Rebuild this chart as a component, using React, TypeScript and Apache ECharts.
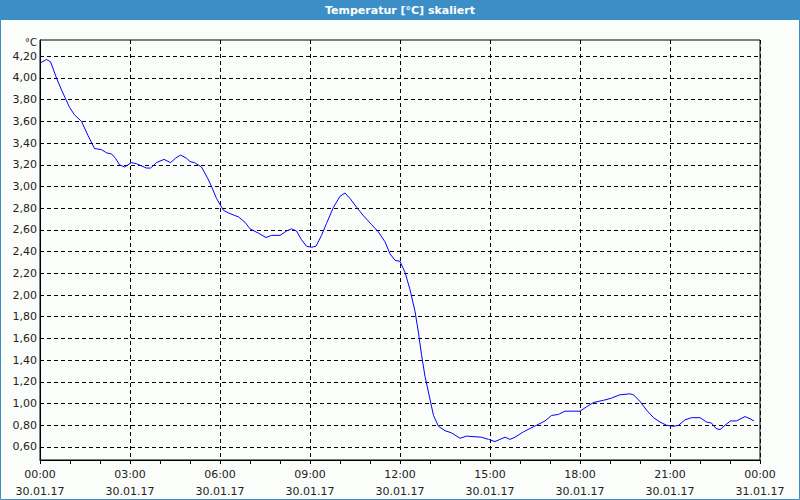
import React, { useEffect, useRef } from "react";
import * as echarts from "echarts";

const titleText = "Temperatur [°C] skaliert";
const unitLabel = "°C";

// time of day (30.01.17) and temperature in °C
const times = [
  "00:01", "00:13", "00:21", "00:33", "00:43", "00:59", "01:09", "01:23", "01:36", "01:49",
  "02:03", "02:13", "02:23", "02:31", "02:39", "02:49", "03:03", "03:13", "03:23", "03:33",
  "03:41", "03:53", "04:08", "04:21", "04:31", "04:41", "04:53", "05:00", "05:09", "05:23",
  "05:36", "05:43", "05:53", "06:07", "06:20", "06:37", "06:50", "07:00", "07:17", "07:32",
  "07:43", "08:00", "08:13", "08:23", "08:33", "08:43", "08:53", "09:03", "09:12", "09:23",
  "09:33", "09:47", "10:00", "10:10", "10:20", "10:33", "10:47", "11:03", "11:17", "11:30",
  "11:40", "11:50", "12:00", "12:10", "12:20", "12:30", "12:37", "12:43", "12:50", "12:59",
  "13:07", "13:17", "13:30", "13:43", "14:00", "14:13", "14:43", "14:57", "15:10", "15:20",
  "15:30", "15:40", "15:50", "16:07", "16:20", "16:33", "16:50", "17:03", "17:17", "17:30",
  "18:00", "18:13", "18:27", "18:47", "19:03", "19:19", "19:40", "19:47", "20:00", "20:13",
  "20:27", "20:40", "20:53", "21:07", "21:17", "21:30", "21:43", "22:00", "22:13", "22:23",
  "22:32", "22:40", "22:50", "23:01", "23:13", "23:30", "23:40", "23:48",
];
const temps = [
  4.14, 4.17, 4.15, 4.0, 3.89, 3.73, 3.66, 3.6, 3.47, 3.35,
  3.34, 3.31, 3.3, 3.26, 3.2, 3.18, 3.22, 3.21, 3.19, 3.17,
  3.17, 3.22, 3.25, 3.22, 3.26, 3.29, 3.26, 3.23, 3.22, 3.18,
  3.07, 3.0, 2.89, 2.78, 2.75, 2.72, 2.67, 2.61, 2.57, 2.53,
  2.55, 2.55, 2.59, 2.61, 2.59, 2.51, 2.45, 2.44, 2.45, 2.55,
  2.66, 2.81, 2.91, 2.94, 2.89, 2.81, 2.73, 2.65, 2.58, 2.49,
  2.38, 2.32, 2.31, 2.21, 2.05, 1.85, 1.65, 1.45, 1.25, 1.06,
  0.89, 0.79, 0.75, 0.73, 0.68, 0.7, 0.69, 0.67, 0.65, 0.67,
  0.69, 0.67, 0.69, 0.74, 0.77, 0.8, 0.84, 0.89, 0.9, 0.93,
  0.93, 0.97, 1.01, 1.03, 1.05, 1.08, 1.09, 1.08, 1.02, 0.94,
  0.87, 0.83, 0.8, 0.79, 0.8, 0.85, 0.87, 0.87, 0.83, 0.82,
  0.77, 0.76, 0.8, 0.84, 0.84, 0.88, 0.86, 0.84,
];

const yTickValues = [0.6, 0.8, 1.0, 1.2, 1.4, 1.6, 1.8, 2.0, 2.2, 2.4, 2.6, 2.8, 3.0, 3.2, 3.4, 3.6, 3.8, 4.0, 4.2];
const yMin = 0.48;
const yMax = 4.35;
const xTickHours = [0, 3, 6, 9, 12, 15, 18, 21, 24];
const dayLabels = ["30.01.17", "31.01.17"];

const toMinutes = (t: string) => {
  const [h, m] = t.split(":").map(Number);
  return h * 60 + m;
};

const FONT = "DejaVu Sans";

export default function App() {
  const ref = useRef<HTMLDivElement>(null);

  useEffect(() => {
    if (!ref.current) return;
    const chart = echarts.init(ref.current, null, { renderer: "svg" });
    const data = times.map((t, i) => [toMinutes(t), temps[i]]);
    const pad = (n: number) => (n < 10 ? "0" + n : "" + n);

    chart.setOption({
      animation: false,
      backgroundColor: "#fbfdfb",
      graphic: [
        {
          type: "rect",
          shape: { x: 0, y: 0, width: 800, height: 20 },
          style: { fill: "#3b8fc6" },
          silent: true,
        },
        {
          type: "rect",
          shape: { x: 0.5, y: 0.5, width: 799, height: 499 },
          style: { fill: "none", stroke: "#3b8fc6", lineWidth: 1 },
          silent: true,
        },
        {
          type: "text",
          style: {
            text: titleText,
            x: 400,
            y: 10,
            align: "center",
            verticalAlign: "middle",
            fill: "#ffffff",
            font: `bold 11px "${FONT}"`,
          },
          silent: true,
        },
        {
          type: "text",
          style: {
            text: unitLabel,
            x: 37,
            y: 42,
            align: "right",
            verticalAlign: "middle",
            fill: "#222",
            font: `10px "${FONT}"`,
          },
          silent: true,
        },
      ],
      grid: {
        left: 40,
        right: 40,
        top: 40,
        bottom: 40,
        show: true,
        borderColor: "#000",
        borderWidth: 1,
        backgroundColor: "transparent",
      },
      xAxis: {
        type: "value",
        min: 0,
        max: 1440,
        interval: 180,
        axisLine: { show: true, lineStyle: { color: "#000", width: 1 } },
        axisTick: {
          show: true,
          length: 4,
          lineStyle: { color: "#000" },
          customValues: xTickHours.map((h) => h * 60),
        },
        minorTick: { show: true, splitNumber: 3, length: 4, lineStyle: { color: "#000" } },
        axisLabel: {
          customValues: xTickHours.map((h) => h * 60),
          margin: 6,
          color: "#222",
          fontFamily: FONT,
          fontSize: 11,
          lineHeight: 17,
          formatter: (v: number) => {
            const h = Math.floor(v / 60) % 24;
            const d = v >= 1440 ? dayLabels[1] : dayLabels[0];
            return pad(h) + ":00\n" + d;
          },
        },
        splitLine: {
          show: true,
          lineStyle: { color: "#000", type: [4, 3], width: 1 },
        },
      },
      yAxis: {
        type: "value",
        min: yMin,
        max: yMax,
        axisLine: { show: true, lineStyle: { color: "#000", width: 1 } },
        axisTick: { show: false, customValues: yTickValues },
        axisLabel: {
          customValues: yTickValues,
          margin: 3,
          color: "#222",
          fontFamily: FONT,
          fontSize: 11,
          lineHeight: 11,
          formatter: (v: number) => v.toFixed(2).replace(".", ","),
        },
        splitLine: {
          show: true,
          lineStyle: { color: "#000", type: [4, 3], width: 1 },
        },
      },
      series: [
        {
          type: "line",
          data,
          showSymbol: false,
          symbol: "none",
          lineStyle: { color: "#0000ff", width: 1 },
          smooth: false,
        },
      ],
    });

    return () => chart.dispose();
  }, []);

  return (
    <div
      ref={ref}
      style={{ position: "fixed", left: 0, top: 0, width: 800, height: 500 }}
    />
  );
}
